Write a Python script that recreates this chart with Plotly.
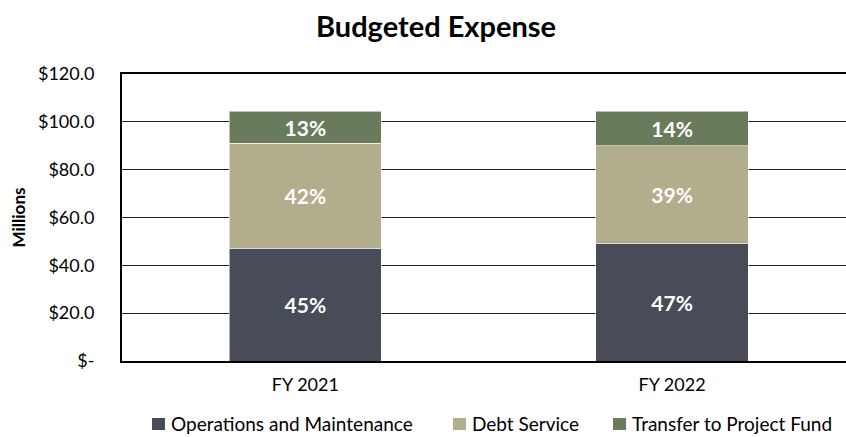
import plotly.graph_objects as go

# Budgeted expense by fiscal year, in millions of dollars
years = ["FY 2021", "FY 2022"]
operations = [47.2, 49.0]
debt_service = [43.9, 41.1]
transfer = [13.4, 14.4]

series_names = ["Operations and Maintenance", "Debt Service", "Transfer to Project Fund"]
series_values = [operations, debt_service, transfer]
series_colors = ["#484B58", "#B1AD8D", "#6A7B5C"]

y_tick_vals = [0, 20, 40, 60, 80, 100, 120]
y_tick_text = ["$-", "$20.0", "$40.0", "$60.0", "$80.0", "$100.0", "$120.0"]

totals = [sum(v) for v in zip(*series_values)]

FONT = "Lato, 'Open Sans', sans-serif"
W, H = 846, 437
M_L, M_R, M_T, M_B = 122, 0, 74, 76
PLOT_W = W - M_L - M_R
PLOT_H = H - M_T - M_B


def xp(px):
    """Pixel column -> paper x (relative to the plot area)."""
    return (px - M_L) / PLOT_W


def yp(py):
    """Pixel row -> paper y (relative to the plot area)."""
    return (H - M_B - py) / PLOT_H


fig = go.Figure()
for name, vals, color in zip(series_names, series_values, series_colors):
    labels = [f"{round(v / t * 100):.0f}%" for v, t in zip(vals, totals)]
    fig.add_trace(go.Bar(
        x=years,
        y=vals,
        name=name,
        width=0.415,
        marker=dict(color=color, line=dict(color="rgba(255,255,255,0.55)", width=1)),
        text=labels,
        textposition="inside",
        insidetextanchor="middle",
        textangle=0,
        textfont=dict(color="white", size=21, family=FONT, weight="bold"),
        hoverinfo="skip",
        showlegend=False,
    ))

# Legend row: colour swatch plus label for each series
legend_x = [152, 453, 613]
legend_y = 423
shapes = []
annotations = []
for name, color, lx in zip(series_names, series_colors, legend_x):
    shapes.append(dict(
        type="rect", xref="paper", yref="paper",
        xsizemode="pixel", ysizemode="pixel",
        xanchor=xp(lx), yanchor=yp(legend_y + 1),
        x0=0, x1=13, y0=-6, y1=6,
        fillcolor=color, line=dict(width=0),
    ))
    annotations.append(dict(
        text=name, xref="paper", yref="paper",
        x=xp(lx + 17), y=yp(legend_y),
        xanchor="left", yanchor="middle", showarrow=False,
        font=dict(size=19, family=FONT, color="#000000"),
    ))

fig.update_layout(
    barmode="stack",
    width=W,
    height=H,
    margin=dict(l=M_L, r=M_R, t=M_T, b=M_B),
    paper_bgcolor="white",
    plot_bgcolor="white",
    font=dict(family=FONT, color="#000000", size=18),
    title=dict(
        text="<b>Budgeted Expense</b>",
        x=436 / W,
        xanchor="center",
        y=1 - 27 / H,
        yanchor="middle",
        font=dict(size=29, family=FONT, color="#000000"),
    ),
    xaxis=dict(
        range=[-0.5, -0.5 + PLOT_W / 366.7],
        showline=True,
        linecolor="#000000",
        linewidth=2,
        mirror=True,
        ticks="",
        ticklabelstandoff=6,
        tickfont=dict(size=18, family=FONT),
        showgrid=False,
    ),
    yaxis=dict(
        range=[0, 120],
        tickvals=y_tick_vals,
        ticktext=y_tick_text,
        showline=True,
        linecolor="#000000",
        linewidth=2,
        showgrid=True,
        gridcolor="#222222",
        gridwidth=1.2,
        zeroline=False,
        ticks="",
        ticklabelstandoff=22,
        tickfont=dict(size=18, family=FONT),
        title=dict(text="<b>Millions</b>", font=dict(size=17, family=FONT), standoff=8),
    ),
    shapes=shapes,
    annotations=annotations,
    showlegend=False,
)

fig.write_html("out.html")
